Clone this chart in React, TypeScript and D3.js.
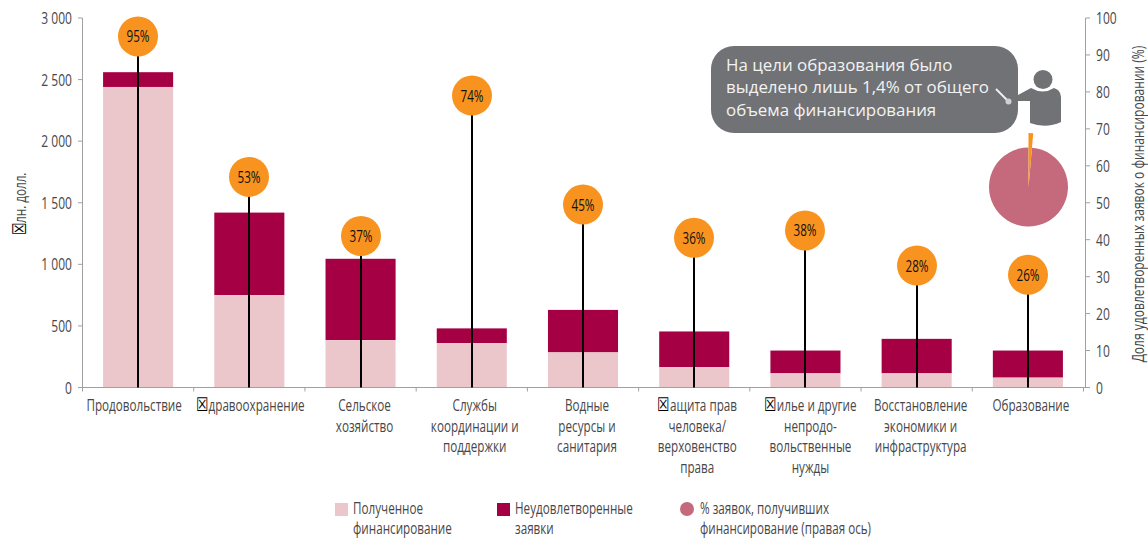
import React, { useEffect, useRef } from "react";
import * as d3 from "d3";

const categories: string[][] = [
  ["Продовольствие"],
  ["☒дравоохранение"],
  ["Сельское", "хозяйство"],
  ["Службы", "координации и", "поддержки"],
  ["Водные", "ресурсы и", "санитария"],
  ["☒ащита прав", "человека/", "верховенство", "права"],
  ["☒илье и другие", "непродо-", "вольственные", "нужды"],
  ["Восстановление", "экономики и", "инфраструктура"],
  ["Образование"],
];
const received = [2440, 750, 385, 360, 285, 165, 115, 115, 80];
const requested = [2560, 1420, 1045, 480, 630, 455, 300, 395, 300];
const pctLabels = [95, 53, 37, 74, 45, 36, 38, 28, 26];
const pctPositions = [95, 57, 41, 79, 49.5, 40.5, 42.5, 33, 30.5];
const leftTicks = [0, 500, 1000, 1500, 2000, 2500, 3000];
const rightTicks = [0, 10, 20, 30, 40, 50, 60, 70, 80, 90, 100];
const pieShares = [1.4, 98.6];
const calloutLines = [
  "На цели образования было",
  "выделено лишь 1,4% от общего",
  "объема финансирования",
];
const legendReceived = ["Полученное", "финансирование"];
const legendUnmet = ["Неудовлетворенные", "заявки"];
const legendPct = ["% заявок, получивших", "финансирование (правая ось)"];

const FONT = "'Open Sans', sans-serif";
const TEXT = "#47474a";
const AXIS = "#a0a0a0";
const SQUEEZE = 0.73;
// horizontal nudge of each category label relative to its bar centre
const labelShift = [-4, 1, 4, 3, 4, 3, 5, 4, 3];

export default function App() {
  const ref = useRef<SVGSVGElement>(null);
  useEffect(() => {
    const svg = d3.select(ref.current!);
    svg.selectAll("*").remove();
    const y = d3.scaleLinear().domain([0, 3000]).range([387.5, 18]);
    const yR = d3.scaleLinear().domain([0, 100]).range([387.5, 18]);
    const x = d3
      .scaleBand<number>()
      .domain(d3.range(categories.length))
      .range([82.5, 1083.5])
      .paddingInner(0.37)
      .paddingOuter(0.185);

    const fmt = (v: number) => String(v).replace(/\B(?=(\d{3})+$)/g, " ");

    // condensed text: the source face is a condensed one, so squeeze horizontally
    const put = (
      px: number,
      py: number,
      s: string,
      opts: { anchor?: string; size?: number; rotate?: boolean; fill?: string; length?: number } = {}
    ) => {
      const { anchor = "start", size = 16, rotate = false, fill = TEXT, length } = opts;
      const t = svg
        .append("text")
        .attr("font-family", FONT)
        .attr("font-size", size)
        .attr("fill", fill)
        .attr("text-anchor", anchor)
        .attr(
          "transform",
          `translate(${px},${py})${rotate ? " rotate(-90)" : ""} scale(${SQUEEZE},1)`
        );
      if (length) t.attr("textLength", length / SQUEEZE).attr("lengthAdjust", "spacingAndGlyphs");
      if (s.startsWith("☒")) {
        t.append("tspan").attr("fill", "#000").attr("font-size", size * 1.2).text("☒");
        t.append("tspan").text(s.slice(1));
      } else {
        t.text(s);
      }
    };

    // bars
    const bars = svg.append("g");
    categories.forEach((_, i) => {
      bars.append("rect").attr("x", x(i)!).attr("width", x.bandwidth())
        .attr("y", y(requested[i])).attr("height", y(received[i]) - y(requested[i]))
        .attr("fill", "#a50044");
      bars.append("rect").attr("x", x(i)!).attr("width", x.bandwidth())
        .attr("y", y(received[i])).attr("height", y(0) - y(received[i]))
        .attr("fill", "#ebc7cc");
    });

    // axes
    const axes = svg.append("g").attr("stroke", AXIS).attr("fill", "none");
    axes.append("line").attr("x1", 82.5).attr("x2", 82.5).attr("y1", y(3000)).attr("y2", y(0));
    axes.append("line").attr("x1", 1085.5).attr("x2", 1085.5).attr("y1", yR(100)).attr("y2", yR(0));
    axes.append("line").attr("x1", 78).attr("x2", 1090).attr("y1", y(0)).attr("y2", y(0));
    leftTicks.forEach((t) =>
      axes.append("line").attr("x1", 78).attr("x2", 82.5).attr("y1", y(t)).attr("y2", y(t)));
    rightTicks.forEach((t) =>
      axes.append("line").attr("x1", 1085.5).attr("x2", 1090).attr("y1", yR(t)).attr("y2", yR(t)));
    const step = x.step();
    d3.range(categories.length + 1).forEach((i) => {
      const px = 82.5 + i * step;
      axes.append("line").attr("x1", px).attr("x2", px).attr("y1", y(0)).attr("y2", y(0) + 4);
    });

    leftTicks.forEach((t) => put(72, y(t) + 6, fmt(t), { anchor: "end", size: 16.5 }));
    rightTicks.forEach((t) => put(1096, yR(t) + 6, String(t), { size: 16.5 }));

    put(26, 204, "☒лн. долл.", { anchor: "middle", rotate: true, size: 16 });
    put(1144, 204, "Доля удовлетворенных заявок о финансировании (%)", {
      anchor: "middle",
      rotate: true,
      size: 16.5,
    });

    // category labels
    categories.forEach((lines, i) => {
      const cx = x(i)! + x.bandwidth() / 2 + labelShift[i];
      lines.forEach((l, k) => put(cx, 411 + k * 20.5, l, { anchor: "middle" }));
    });

    // lollipops
    categories.forEach((_, i) => {
      const cx = Math.round(x(i)! + x.bandwidth() / 2);
      svg.append("line").attr("x1", cx).attr("x2", cx)
        .attr("y1", yR(pctPositions[i])).attr("y2", y(0))
        .attr("stroke", "#000").attr("stroke-width", 2);
      svg.append("circle").attr("cx", cx).attr("cy", yR(pctPositions[i])).attr("r", 20)
        .attr("fill", "#f8931f");
      put(cx, yR(pctPositions[i]) + 6, pctLabels[i] + "%", {
        anchor: "middle",
        size: 16,
        fill: "#111",
      });
    });

    // callout
    svg.append("rect").attr("x", 711).attr("y", 46).attr("width", 307).attr("height", 87)
      .attr("rx", 23).attr("fill", "#717275");
    calloutLines.forEach((l, k) =>
      svg.append("text").attr("font-family", FONT).attr("fill", "#f2f2f2")
        .attr("x", 726).attr("y", 71 + k * 22.3).attr("font-size", 16.9).text(l));

    // person
    const p = svg.append("g").attr("fill", "#717275");
    p.append("circle").attr("cx", 1043).attr("cy", 79.5).attr("r", 9.5);
    p.append("path").attr(
      "d",
      "M1018,95 L1031,88 Q1043,95 1054,88 L1058,90 Q1061,93 1061,97 L1061,122 Q1046,129 1030,123 L1030,101 L1018,101 Z"
    );
    svg.append("line").attr("x1", 996).attr("y1", 89).attr("x2", 1007).attr("y2", 100)
      .attr("stroke", "#f2f2f2").attr("stroke-width", 1.8);
    svg.append("circle").attr("cx", 1008.5).attr("cy", 101.5).attr("r", 3).attr("fill", "#cfd0d1");

    // pie
    const pie = d3.pie<number>().sort(null)(pieShares);
    const g = svg.append("g").attr("transform", "translate(1028.5,187)");
    g.append("path")
      .attr("d", d3.arc<any>().innerRadius(0).outerRadius(39.5)(pie[1]) as string)
      .attr("fill", "#c46a7c");
    g.append("path")
      .attr("d", d3.arc<any>().innerRadius(0).outerRadius(54)(pie[0]) as string)
      .attr("fill", "#f8931f");

    // legend
    svg.append("rect").attr("x", 335).attr("y", 503).attr("width", 13).attr("height", 13).attr("fill", "#ebc7cc");
    svg.append("rect").attr("x", 497).attr("y", 503).attr("width", 13).attr("height", 13).attr("fill", "#a50044");
    svg.append("circle").attr("cx", 687).attr("cy", 509).attr("r", 7).attr("fill", "#c46a7c");
    const legend = (lines: string[], px: number, lastLength?: number) =>
      lines.forEach((l, k) =>
        put(px, 514 + k * 20, l, k === lines.length - 1 && lastLength ? { length: lastLength } : {}));
    legend(legendReceived, 353);
    legend(legendUnmet, 515);
    legend(legendPct, 700, 171);
  }, []);
  return (
    <svg
      ref={ref}
      width={1148}
      height={538}
      style={{ position: "absolute", left: 0, top: 0, background: "#fff" }}
    />
  );
}
